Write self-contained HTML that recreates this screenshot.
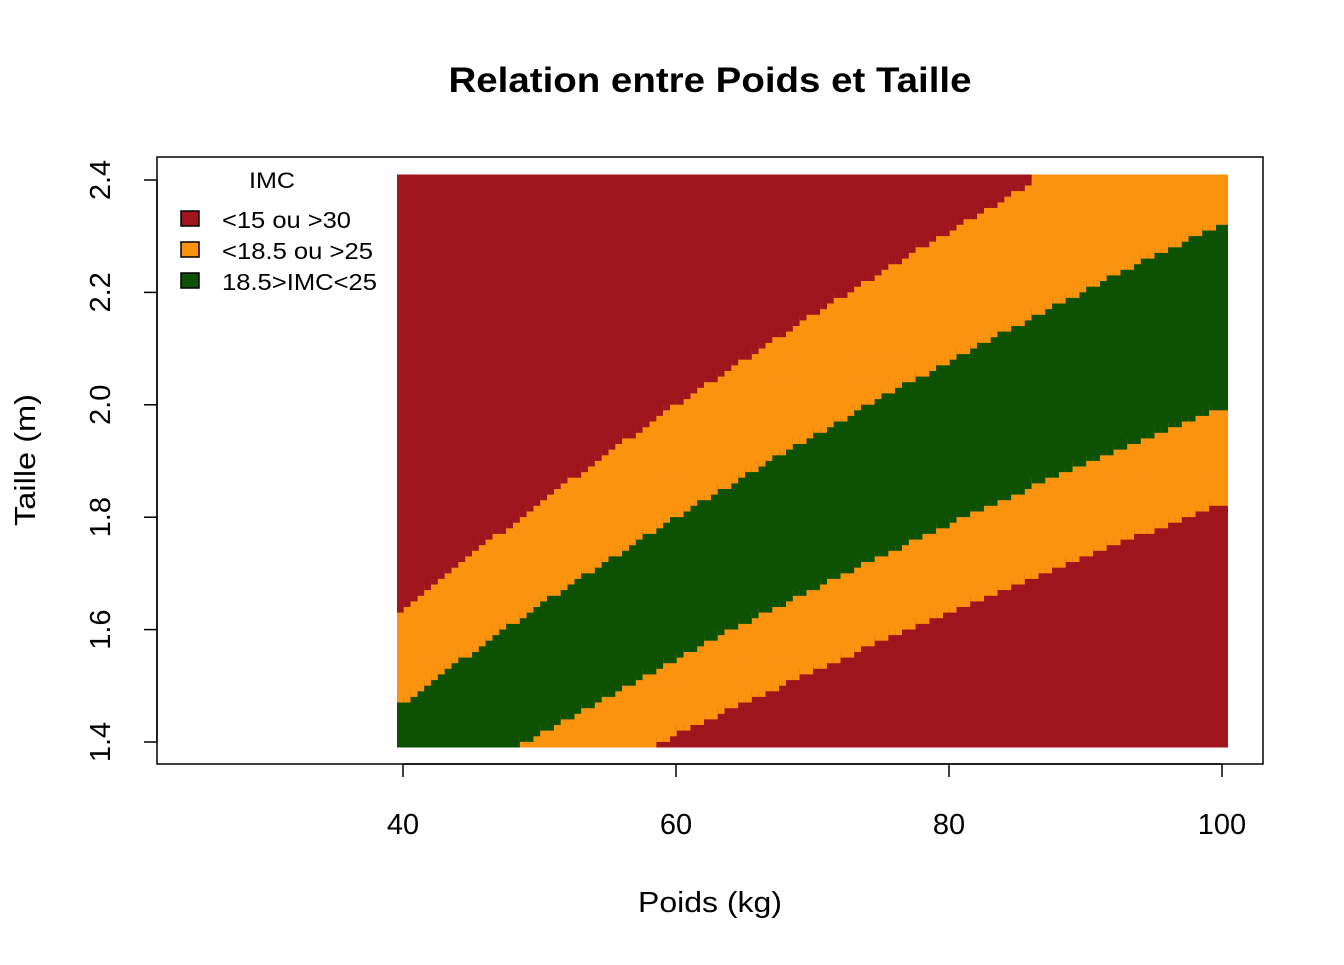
<!DOCTYPE html>
<html><head><meta charset="utf-8"><style>
body{margin:0;background:#fff;}
svg text{font-family:"Liberation Sans",Arial,sans-serif;}
</style></head><body>
<svg id="chart" width="1344" height="960" viewBox="0 0 1344 960">
<rect width="1344" height="960" fill="#fff"/>
<text x="710" y="92" text-anchor="middle" font-size="35" font-weight="bold" textLength="523" lengthAdjust="spacingAndGlyphs">Relation entre Poids et Taille</text>
<g id="cells"></g>
<rect x="157" y="157" width="1106" height="607" fill="none" stroke="#000" stroke-width="1.5"/>
<g id="axes"></g>
<text x="710" y="912" text-anchor="middle" font-size="29" textLength="144" lengthAdjust="spacingAndGlyphs">Poids (kg)</text>
<text transform="translate(35,460) rotate(-90)" text-anchor="middle" font-size="29" textLength="132" lengthAdjust="spacingAndGlyphs">Taille (m)</text>
<g>
<text x="272" y="188" text-anchor="middle" font-size="22" textLength="46" lengthAdjust="spacingAndGlyphs">IMC</text>
<rect x="181" y="211" width="18" height="15" fill="#A0141E" stroke="#000" stroke-width="1.5"/>
<text x="222" y="228" font-size="23" textLength="129" lengthAdjust="spacingAndGlyphs">&lt;15 ou &gt;30</text>
<rect x="181" y="242" width="18" height="15" fill="#FB930F" stroke="#000" stroke-width="1.5"/>
<text x="222" y="259" font-size="23" textLength="151" lengthAdjust="spacingAndGlyphs">&lt;18.5 ou &gt;25</text>
<rect x="181" y="273" width="18" height="15" fill="#0D5204" stroke="#000" stroke-width="1.5"/>
<text x="222" y="290" font-size="23" textLength="155" lengthAdjust="spacingAndGlyphs">18.5&gt;IMC&lt;25</text>
</g>
</svg>
<script>
const weightRange = [40, 100, 0.5];
const heightRange = [1.4, 2.4, 0.01];
const bmiBreaks = [15, 18.5, 25, 30];
const xTicks = [40, 60, 80, 100];
const yTicks = [1.4, 1.6, 1.8, 2.0, 2.2, 2.4];
const colors = ["#A0141E", "#FB930F", "#0D5204"];
const NS = "http://www.w3.org/2000/svg";
const xs = v => 403 + (v - 40) * 13.65;
const ys = v => 742 - (v - 1.4) * 562;
const cells = document.getElementById('cells');
const nW = Math.round((weightRange[1]-weightRange[0])/weightRange[2]);
const nH = Math.round((heightRange[1]-heightRange[0])/heightRange[2]);
for (let i = 0; i <= nW; i++) {
  const w = weightRange[0] + i*weightRange[2];
  for (let j = 0; j <= nH; j++) {
    const h = heightRange[0] + j*heightRange[2];
    const b = w/(h*h);
    let c;
    if (b >= bmiBreaks[1] && b <= bmiBreaks[2]) c = colors[2];
    else if (b >= bmiBreaks[0] && b <= bmiBreaks[3]) c = colors[1];
    else c = colors[0];
    const r = document.createElementNS(NS, 'rect');
    r.setAttribute('x', (xs(w)-6).toFixed(1));
    r.setAttribute('y', (ys(h)-5.5).toFixed(1));
    r.setAttribute('width', 12);
    r.setAttribute('height', 11);
    r.setAttribute('fill', c);
    
    
    cells.appendChild(r);
  }
}
const axes = document.getElementById('axes');
function add(tag, attrs, text){const e=document.createElementNS(NS,tag);for(const k in attrs)e.setAttribute(k,attrs[k]);if(text!==undefined)e.textContent=text;axes.appendChild(e);return e;}
const xl = add('line',{x1:xs(40),x2:xs(100),y1:764,y2:764,stroke:'#000','stroke-width':1.5});


xTicks.forEach(t=>{
  const l=add('line',{x1:xs(t),x2:xs(t),y1:764,y2:777,stroke:'#000','stroke-width':1.5});
  
  
  const tx=add('text',{x:xs(t),y:834,'text-anchor':'middle','font-size':29},String(t));
  
  
});
const yl = add('line',{x1:157,x2:157,y1:ys(1.4),y2:ys(2.4),stroke:'#000','stroke-width':1.5});


yTicks.forEach(t=>{
  const l=add('line',{x1:144,x2:157,y1:ys(t),y2:ys(t),stroke:'#000','stroke-width':1.5});
  
  
  const tx=add('text',{transform:`translate(110,${ys(t)}) rotate(-90)`,'text-anchor':'middle','font-size':29},t.toFixed(1));
  
  
});
</script>
</body></html>
